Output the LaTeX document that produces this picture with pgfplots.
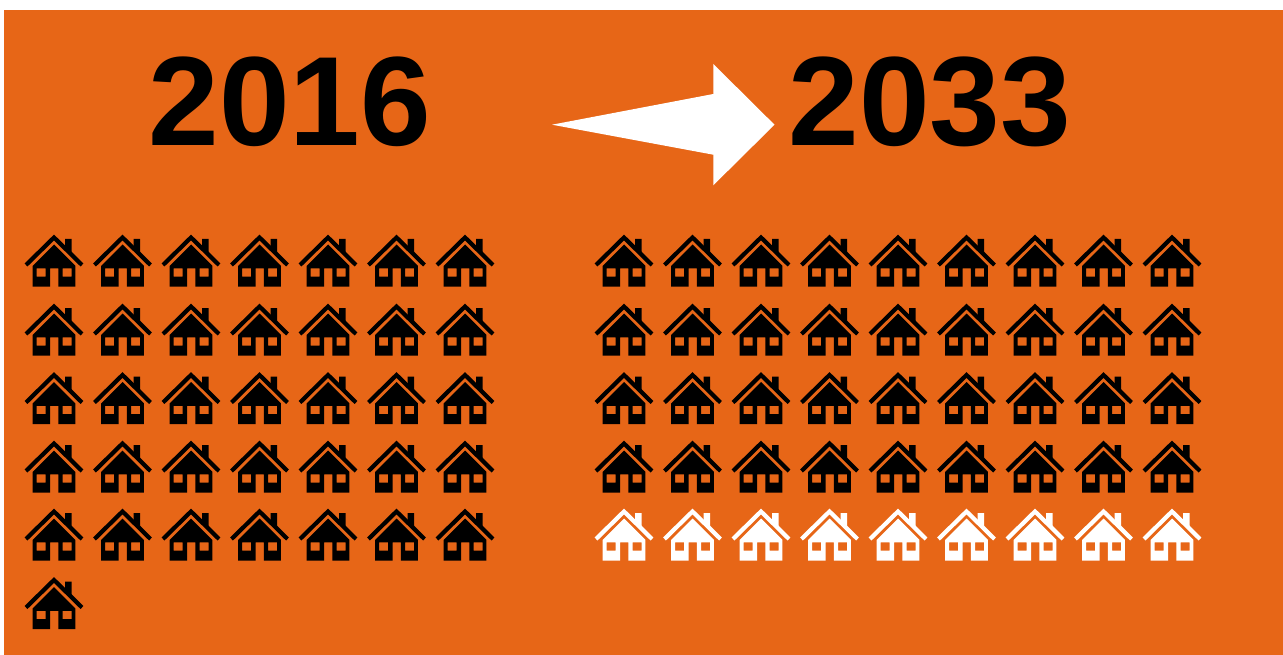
\documentclass[border=0pt]{standalone}
\usepackage{fontspec}
\setmainfont{Liberation Sans}
\usepackage{pgfplots}
\pgfplotsset{compat=1.18}

\definecolor{bgorange}{HTML}{E76617}

% house icon, 1pt = 1px of the reference, origin at the middle of the icon
\pgfdeclareplotmark{house}{%
  % roof
  \pgfsetlinewidth{4.2pt}%
  \pgfsetmiterjoin
  \pgfpathmoveto{\pgfqpoint{-28pt}{-4pt}}%
  \pgfpathlineto{\pgfqpoint{0pt}{23.5pt}}%
  \pgfpathlineto{\pgfqpoint{28pt}{-4pt}}%
  \pgfusepathqstroke
  % chimney
  \pgfpathmoveto{\pgfqpoint{11pt}{22pt}}%
  \pgfpathlineto{\pgfqpoint{17.7pt}{22pt}}%
  \pgfpathlineto{\pgfqpoint{17.7pt}{6pt}}%
  \pgfpathlineto{\pgfqpoint{11pt}{12pt}}%
  \pgfpathclose
  \pgfusepathqfill
  % body with door and windows cut out
  \pgfseteorule
  \pgfpathmoveto{\pgfqpoint{0pt}{16.5pt}}%
  \pgfpathlineto{\pgfqpoint{21.3pt}{-4.8pt}}%
  \pgfpathlineto{\pgfqpoint{21.3pt}{-25.7pt}}%
  \pgfpathlineto{\pgfqpoint{4.3pt}{-25.7pt}}%
  \pgfpathlineto{\pgfqpoint{4.3pt}{-7.3pt}}%
  \pgfpathlineto{\pgfqpoint{-4pt}{-7.3pt}}%
  \pgfpathlineto{\pgfqpoint{-4pt}{-25.7pt}}%
  \pgfpathlineto{\pgfqpoint{-21.3pt}{-25.7pt}}%
  \pgfpathlineto{\pgfqpoint{-21.3pt}{-4.8pt}}%
  \pgfpathclose
  \pgfpathrectangle{\pgfqpoint{-17.3pt}{-15.7pt}}{\pgfqpoint{9pt}{8.4pt}}%
  \pgfpathrectangle{\pgfqpoint{8.7pt}{-15.7pt}}{\pgfqpoint{9pt}{8.4pt}}%
  \pgfusepathqfill
}

\begin{document}
\begin{tikzpicture}
\begin{axis}[
  scale only axis, width=1283pt, height=655pt,
  xmin=0, xmax=1283, ymin=0, ymax=655,
  y dir=reverse,
  axis line style={draw=none},
  ticks=none,
]
% white page and orange panel
\addplot[fill=white, draw=none] coordinates {(0,0) (1283,0) (1283,655) (0,655)} -- cycle;
\addplot[fill=bgorange, draw=none] coordinates {(4,10) (1283,10) (1283,655) (4,655)} -- cycle;
% arrow
\addplot[fill=white, draw=none] coordinates {(552,124.7) (713.3,94) (713.3,64) (774.5,124.7) (713.3,185.3) (713.3,154.7)} -- cycle;

% 2016: 36 houses
\addplot[only marks, mark=house, draw=black, fill=black] table {
x y
54 261
122.5 261
191 261
259.5 261
328 261
396.5 261
465 261
54 330
122.5 330
191 330
259.5 330
328 330
396.5 330
465 330
54 398.5
122.5 398.5
191 398.5
259.5 398.5
328 398.5
396.5 398.5
465 398.5
54 467
122.5 467
191 467
259.5 467
328 467
396.5 467
465 467
54 535
122.5 535
191 535
259.5 535
328 535
396.5 535
465 535
54 603.5
};
% 2033: 36 black houses
\addplot[only marks, mark=house, draw=black, fill=black] table {
x y
624 261
692.5 261
761 261
829.5 261
898 261
966.5 261
1035 261
1103.5 261
1172 261
624 330
692.5 330
761 330
829.5 330
898 330
966.5 330
1035 330
1103.5 330
1172 330
624 398.5
692.5 398.5
761 398.5
829.5 398.5
898 398.5
966.5 398.5
1035 398.5
1103.5 398.5
1172 398.5
624 467
692.5 467
761 467
829.5 467
898 467
966.5 467
1035 467
1103.5 467
1172 467
};
% 2033: 9 extra houses
\addplot[only marks, mark=house, draw=white, fill=white] table {
x y
624 535
692.5 535
761 535
829.5 535
898 535
966.5 535
1035 535
1103.5 535
1172 535
};

\node[anchor=base, inner sep=0pt, text=black, font=\fontsize{127}{127}\selectfont\bfseries] at (axis cs:290,145.5) {2016};
\node[anchor=base, inner sep=0pt, text=black, font=\fontsize{127}{127}\selectfont\bfseries] at (axis cs:930,145.5) {2033};
\end{axis}
\end{tikzpicture}
\end{document}
